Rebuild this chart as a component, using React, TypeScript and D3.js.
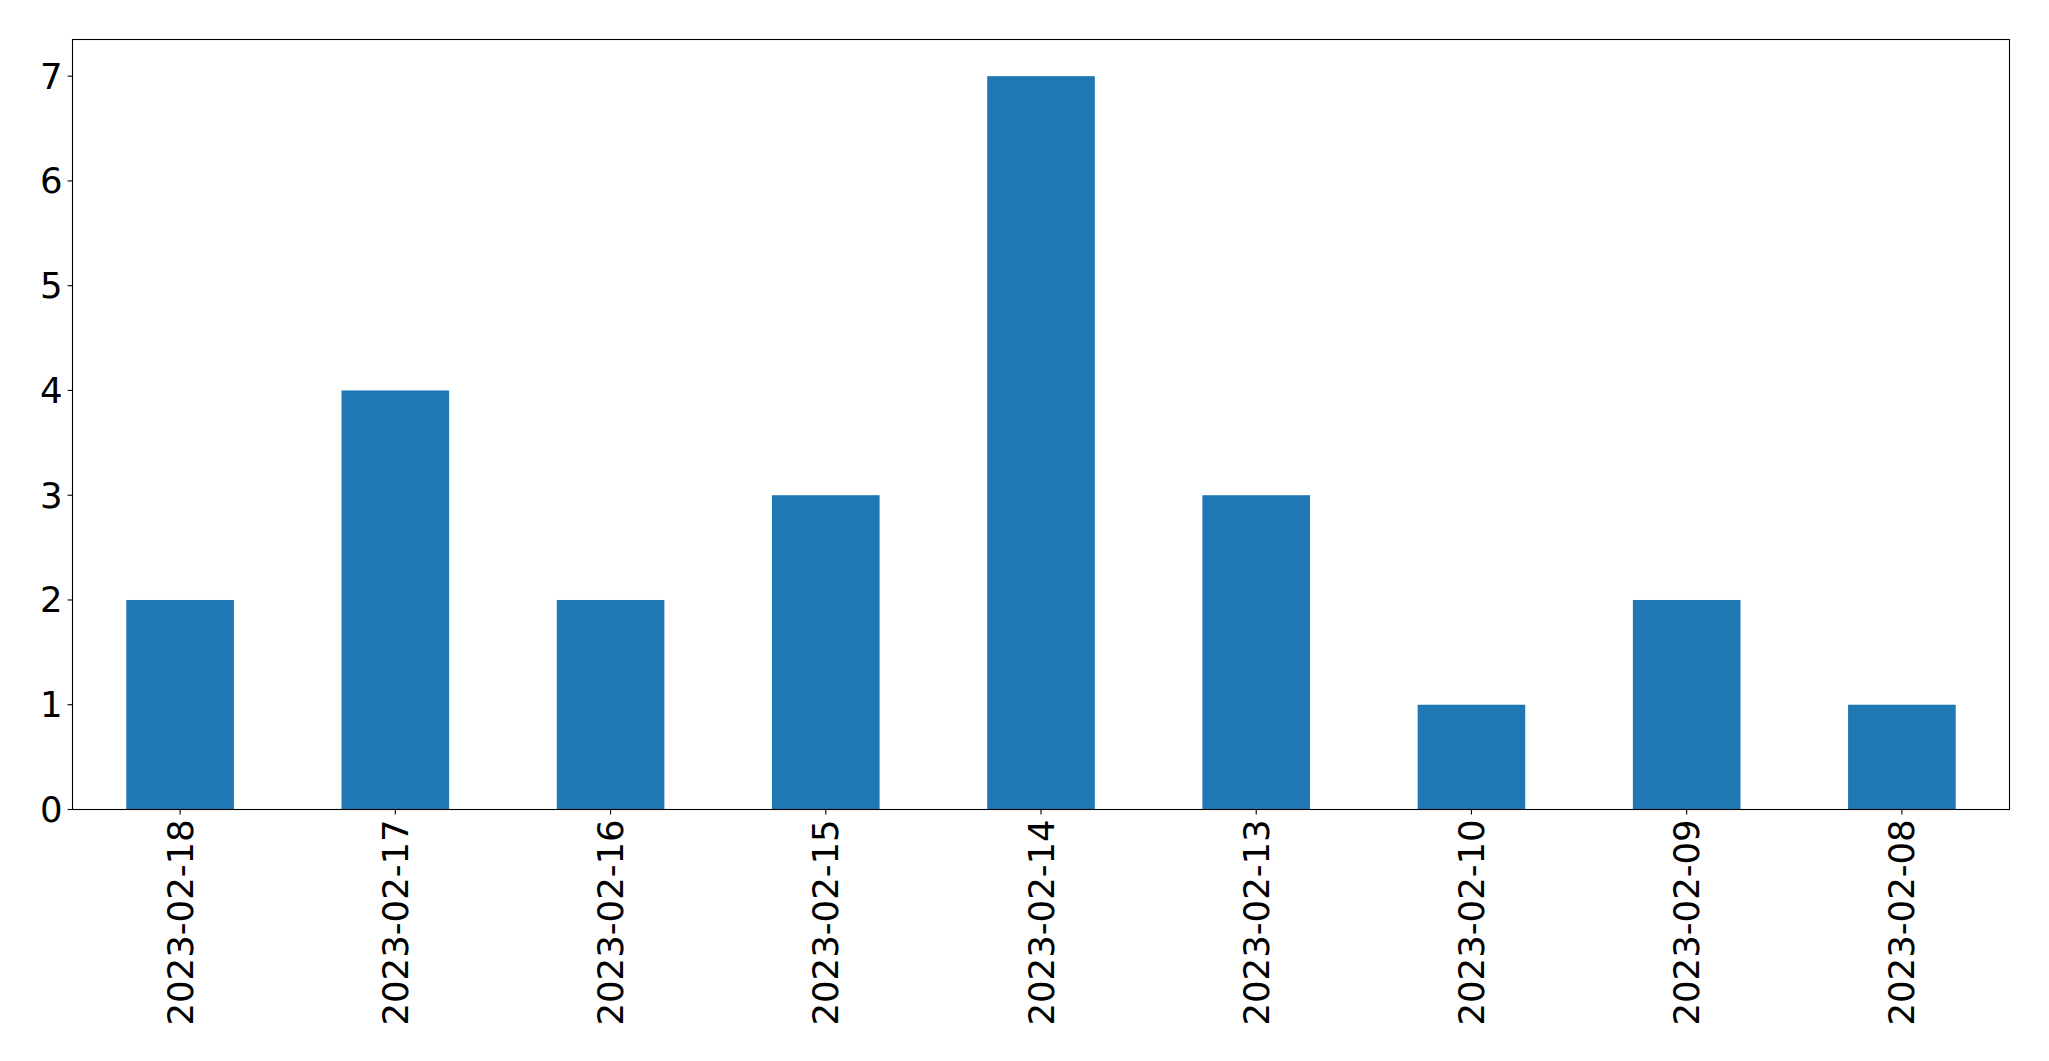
import React from "react";
import * as d3 from "d3";

const categories = ["2023-02-18", "2023-02-17", "2023-02-16", "2023-02-15", "2023-02-14", "2023-02-13", "2023-02-10", "2023-02-09", "2023-02-08"];
const counts = [2, 4, 2, 3, 7, 3, 1, 2, 1];
const yTicks = [0, 1, 2, 3, 4, 5, 6, 7];

const W = 2049;
const H = 1061;
const left = 72.5;
const right = 2009.5;
const top = 39.5;
const bottom = 809.5;
const FONT = "DejaVu Sans";
const FS = 35.5;
const TICK = 4.9;
const PAD = 4.9;

export default function App() {
  const x = d3.scaleLinear().domain([-0.5, categories.length - 0.5]).range([left, right]);
  const ymax = (d3.max(counts) as number) * 1.05;
  const y = d3.scaleLinear().domain([0, ymax]).range([bottom, top]);
  const bw = x(0.25) - x(-0.25);

  return (
    <svg width={W} height={H} style={{ position: "absolute", left: 0, top: 0, background: "#fff" }}>
      <rect x={0} y={0} width={W} height={H} fill="#fff" />
      {counts.map((v, i) => (
        <rect key={i} x={x(i) - bw / 2} y={y(v)} width={bw} height={y(0) - y(v)} fill="#1f77b4" />
      ))}
      {yTicks.map((t) => (
        <g key={t}>
          <line x1={left - TICK} x2={left} y1={y(t)} y2={y(t)} stroke="#000" strokeWidth={1.1} />
          <text x={left - TICK - PAD} y={y(t)} textAnchor="end" dominantBaseline="central" fontFamily={FONT} fontSize={FS} fill="#000">
            {t}
          </text>
        </g>
      ))}
      {categories.map((c, i) => (
        <g key={c}>
          <line x1={x(i)} x2={x(i)} y1={bottom} y2={bottom + TICK} stroke="#000" strokeWidth={1.1} />
          <text
            transform={`translate(${x(i)},${bottom + TICK + PAD}) rotate(-90)`}
            textAnchor="end"
            dominantBaseline="central"
            fontFamily={FONT}
            fontSize={FS}
            fill="#000"
          >
            {c}
          </text>
        </g>
      ))}
      <rect x={left} y={top} width={right - left} height={bottom - top} fill="none" stroke="#000" strokeWidth={1.1} />
    </svg>
  );
}
